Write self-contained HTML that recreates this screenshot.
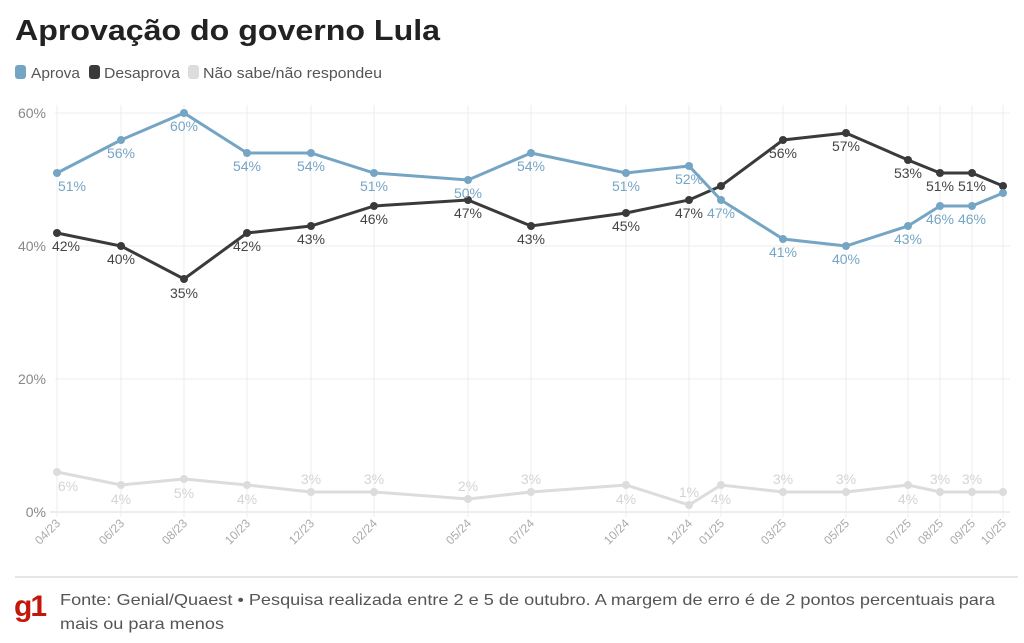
<!DOCTYPE html>
<html><head><meta charset="utf-8"><style>
html,body{margin:0;padding:0;background:#fff;width:1024px;height:643px;overflow:hidden;font-family:"Liberation Sans","DejaVu Sans",sans-serif}
</style></head><body>
<svg width="1024" height="643" viewBox="0 0 1024 643" xmlns="http://www.w3.org/2000/svg" font-family="Liberation Sans, DejaVu Sans, sans-serif">
<text x="15" y="40" font-size="29" font-weight="bold" fill="#222" textLength="425" lengthAdjust="spacingAndGlyphs">Aprovação do governo Lula</text>
<rect x="15" y="65" width="11" height="14" rx="3" fill="#75a5c4"/>
<text x="31" y="78" font-size="15" fill="#555" textLength="49" lengthAdjust="spacingAndGlyphs">Aprova</text>
<rect x="89" y="65" width="11" height="14" rx="3" fill="#3a3a3a"/>
<text x="104" y="78" font-size="15" fill="#555" textLength="76" lengthAdjust="spacingAndGlyphs">Desaprova</text>
<rect x="188" y="65" width="11" height="14" rx="3" fill="#dcdcdc"/>
<text x="203" y="78" font-size="15" fill="#555" textLength="179" lengthAdjust="spacingAndGlyphs">Não sabe/não respondeu</text>
<g stroke="#ececec" stroke-width="1">
<line x1="55" y1="113" x2="1010" y2="113"/><line x1="55" y1="246" x2="1010" y2="246"/><line x1="55" y1="379" x2="1010" y2="379"/><line x1="50" y1="512" x2="1010" y2="512" stroke="#ddd"/>
<line x1="57" y1="105" x2="57" y2="517"/><line x1="121" y1="105" x2="121" y2="517"/><line x1="184" y1="105" x2="184" y2="517"/><line x1="247" y1="105" x2="247" y2="517"/><line x1="311" y1="105" x2="311" y2="517"/><line x1="374" y1="105" x2="374" y2="517"/><line x1="468" y1="105" x2="468" y2="517"/><line x1="531" y1="105" x2="531" y2="517"/><line x1="626" y1="105" x2="626" y2="517"/><line x1="689" y1="105" x2="689" y2="517"/><line x1="721" y1="105" x2="721" y2="517"/><line x1="783" y1="105" x2="783" y2="517"/><line x1="846" y1="105" x2="846" y2="517"/><line x1="908" y1="105" x2="908" y2="517"/><line x1="940" y1="105" x2="940" y2="517"/><line x1="972" y1="105" x2="972" y2="517"/><line x1="1003" y1="105" x2="1003" y2="517"/>
</g>
<g font-size="14" fill="#888" text-anchor="end">
<text x="46" y="118">60%</text><text x="46" y="251">40%</text><text x="46" y="384">20%</text><text x="46" y="517">0%</text>
</g>
<g font-size="12" fill="#aaa" text-anchor="end">
<text transform="translate(61,524) rotate(-45)">04/23</text>
<text transform="translate(125,524) rotate(-45)">06/23</text>
<text transform="translate(188,524) rotate(-45)">08/23</text>
<text transform="translate(251,524) rotate(-45)">10/23</text>
<text transform="translate(315,524) rotate(-45)">12/23</text>
<text transform="translate(378,524) rotate(-45)">02/24</text>
<text transform="translate(472,524) rotate(-45)">05/24</text>
<text transform="translate(535,524) rotate(-45)">07/24</text>
<text transform="translate(630,524) rotate(-45)">10/24</text>
<text transform="translate(693,524) rotate(-45)">12/24</text>
<text transform="translate(725,524) rotate(-45)">01/25</text>
<text transform="translate(787,524) rotate(-45)">03/25</text>
<text transform="translate(850,524) rotate(-45)">05/25</text>
<text transform="translate(912,524) rotate(-45)">07/25</text>
<text transform="translate(944,524) rotate(-45)">08/25</text>
<text transform="translate(976,524) rotate(-45)">09/25</text>
<text transform="translate(1007,524) rotate(-45)">10/25</text>
</g>
<polyline fill="none" stroke="#dcdcdc" stroke-width="3" points="57,472 121,485 184,479 247,485 311,492 374,492 468,499 531,492 626,485 689,505 721,485 783,492 846,492 908,485 940,492 972,492 1003,492"/>
<g fill="#dcdcdc"><circle cx="57" cy="472" r="4"/><circle cx="121" cy="485" r="4"/><circle cx="184" cy="479" r="4"/><circle cx="247" cy="485" r="4"/><circle cx="311" cy="492" r="4"/><circle cx="374" cy="492" r="4"/><circle cx="468" cy="499" r="4"/><circle cx="531" cy="492" r="4"/><circle cx="626" cy="485" r="4"/><circle cx="689" cy="505" r="4"/><circle cx="721" cy="485" r="4"/><circle cx="783" cy="492" r="4"/><circle cx="846" cy="492" r="4"/><circle cx="908" cy="485" r="4"/><circle cx="940" cy="492" r="4"/><circle cx="972" cy="492" r="4"/><circle cx="1003" cy="492" r="4"/></g>
<g font-size="14" fill="#d4d4d4" text-anchor="middle">
<text x="68" y="491">6%</text><text x="121" y="504">4%</text><text x="184" y="498">5%</text><text x="247" y="504">4%</text><text x="311" y="484">3%</text><text x="374" y="484">3%</text><text x="468" y="491">2%</text><text x="531" y="484">3%</text><text x="626" y="504">4%</text><text x="689" y="497">1%</text><text x="721" y="504">4%</text><text x="783" y="484">3%</text><text x="846" y="484">3%</text><text x="908" y="504">4%</text><text x="940" y="484">3%</text><text x="972" y="484">3%</text>
</g>
<polyline fill="none" stroke="#3a3a3a" stroke-width="3" points="57,233 121,246 184,279 247,233 311,226 374,206 468,200 531,226 626,213 689,200 721,186 783,140 846,133 908,160 940,173 972,173 1003,186"/>
<g fill="#3a3a3a"><circle cx="57" cy="233" r="4"/><circle cx="121" cy="246" r="4"/><circle cx="184" cy="279" r="4"/><circle cx="247" cy="233" r="4"/><circle cx="311" cy="226" r="4"/><circle cx="374" cy="206" r="4"/><circle cx="468" cy="200" r="4"/><circle cx="531" cy="226" r="4"/><circle cx="626" cy="213" r="4"/><circle cx="689" cy="200" r="4"/><circle cx="721" cy="186" r="4"/><circle cx="783" cy="140" r="4"/><circle cx="846" cy="133" r="4"/><circle cx="908" cy="160" r="4"/><circle cx="940" cy="173" r="4"/><circle cx="972" cy="173" r="4"/><circle cx="1003" cy="186" r="4"/></g>
<g font-size="14" fill="#444" text-anchor="middle">
<text x="66" y="251">42%</text><text x="121" y="264">40%</text><text x="184" y="298">35%</text><text x="247" y="251">42%</text><text x="311" y="244">43%</text><text x="374" y="224">46%</text><text x="468" y="218">47%</text><text x="531" y="244">43%</text><text x="626" y="231">45%</text><text x="689" y="218">47%</text><text x="783" y="158">56%</text><text x="846" y="151">57%</text><text x="908" y="178">53%</text><text x="940" y="191">51%</text><text x="972" y="191">51%</text>
</g>
<polyline fill="none" stroke="#75a5c4" stroke-width="3" points="57,173 121,140 184,113 247,153 311,153 374,173 468,180 531,153 626,173 689,166 721,200 783,239 846,246 908,226 940,206 972,206 1003,193"/>
<g fill="#75a5c4"><circle cx="57" cy="173" r="4"/><circle cx="121" cy="140" r="4"/><circle cx="184" cy="113" r="4"/><circle cx="247" cy="153" r="4"/><circle cx="311" cy="153" r="4"/><circle cx="374" cy="173" r="4"/><circle cx="468" cy="180" r="4"/><circle cx="531" cy="153" r="4"/><circle cx="626" cy="173" r="4"/><circle cx="689" cy="166" r="4"/><circle cx="721" cy="200" r="4"/><circle cx="783" cy="239" r="4"/><circle cx="846" cy="246" r="4"/><circle cx="908" cy="226" r="4"/><circle cx="940" cy="206" r="4"/><circle cx="972" cy="206" r="4"/><circle cx="1003" cy="193" r="4"/></g>
<g font-size="14" fill="#75a5c4" text-anchor="middle">
<text x="72" y="191">51%</text><text x="121" y="158">56%</text><text x="184" y="131">60%</text><text x="247" y="171">54%</text><text x="311" y="171">54%</text><text x="374" y="191">51%</text><text x="468" y="198">50%</text><text x="531" y="171">54%</text><text x="626" y="191">51%</text><text x="689" y="184">52%</text><text x="721" y="218">47%</text><text x="783" y="257">41%</text><text x="846" y="264">40%</text><text x="908" y="244">43%</text><text x="940" y="224">46%</text><text x="972" y="224">46%</text>
</g>
<line x1="15" y1="577" x2="1018" y2="577" stroke="#ddd" stroke-width="1.5"/>
<text x="14" y="616" font-size="30" font-weight="bold" fill="#c4170c" letter-spacing="-2">g1</text>
<text x="60" y="605" font-size="16" fill="#555" textLength="935" lengthAdjust="spacingAndGlyphs">Fonte: Genial/Quaest • Pesquisa realizada entre 2 e 5 de outubro. A margem de erro é de 2 pontos percentuais para</text>
<text x="60" y="629" font-size="16" fill="#555" textLength="164" lengthAdjust="spacingAndGlyphs">mais ou para menos</text>
</svg>
</body></html>
